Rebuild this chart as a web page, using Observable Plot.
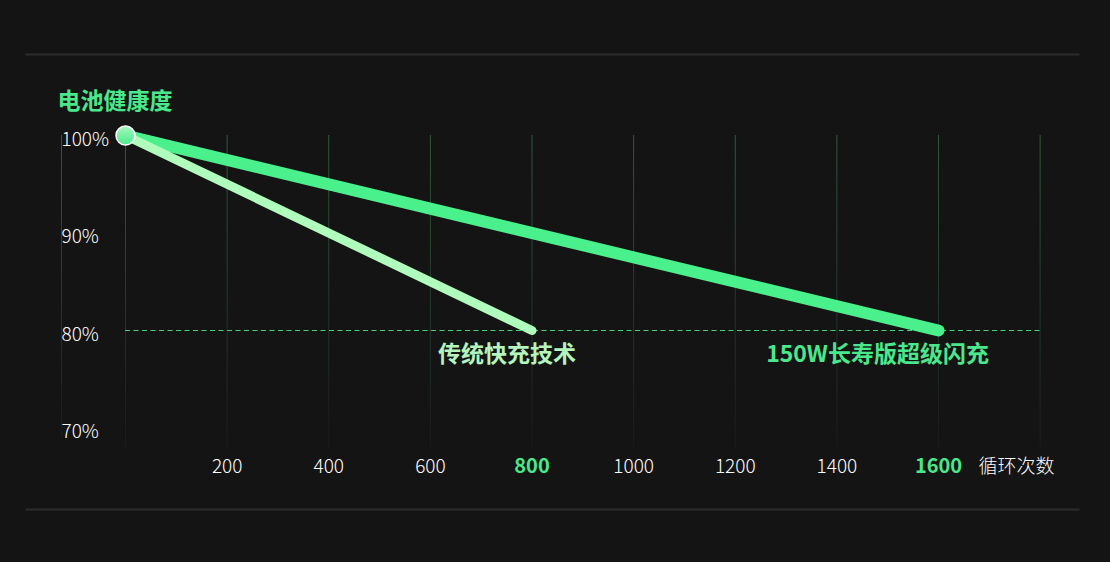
<!DOCTYPE html>
<html>
<head>
<meta charset="utf-8">
<script src="https://cdn.jsdelivr.net/npm/d3@7"></script>
<script src="https://cdn.jsdelivr.net/npm/@observablehq/plot@0.6"></script>
<style>
  html, body { margin: 0; padding: 0; background: #141414; }
  #chart { width: 1110px; height: 562px; }
  svg { font-family: "Noto Sans CJK SC", "Noto Sans", sans-serif; }
</style>
</head>
<body>
<div id="chart"></div>
<script>
// ---- data ----
const cycles = [0, 1600];                 // 150W 长寿版超级闪充
const healthLong = [100, 80];
const cyclesTrad = [0, 800];              // 传统快充技术
const healthTrad = [100, 80];
const gridTicks = [0, 200, 400, 600, 800, 1000, 1200, 1400, 1600, 1800];
const xTickLabels = [200, 400, 600, 1000, 1200, 1400];
const highlightTicks = [800, 1600];
const yTicks = [100, 90, 80, 70];
const thresholdHealth = 80;
const axisLineX = -126;                   // y-axis line (cycle units)
const yTitle = "电池健康度";
const xTitle = "循环次数";
const seriesNames = ["150W长寿版超级闪充", "传统快充技术"];

const longData = cycles.map((c, i) => ({c, h: healthLong[i]}));
const tradData = cyclesTrad.map((c, i) => ({c, h: healthTrad[i]}));

const defs = (index, scales) => {
  const d = d3.create("svg:defs");
  const g = d.append("linearGradient").attr("id", "gridGrad")
    .attr("gradientUnits", "userSpaceOnUse")
    .attr("x1", 0).attr("x2", 0)
    .attr("y1", scales.y(100)).attr("y2", scales.y(68));
  g.append("stop").attr("offset", "0%").attr("stop-color", "#2e5a3e");
  g.append("stop").attr("offset", "100%").attr("stop-color", "#1a1a1a");
  const c = d.append("linearGradient").attr("id", "dotGrad")
    .attr("x1", 0).attr("x2", 0).attr("y1", 0).attr("y2", 1);
  c.append("stop").attr("offset", "0%").attr("stop-color", "#a6f7bf");
  c.append("stop").attr("offset", "100%").attr("stop-color", "#4aeb8c");
  return d.node();
};

const chart = Plot.plot({
  width: 1110,
  height: 562,
  marginTop: 54,
  marginBottom: 53,
  marginLeft: 26,
  marginRight: 32,
  style: {background: "#141414", overflow: "visible"},
  x: {domain: [0, 1600], range: [125, 938], axis: null},
  y: {domain: [80, 100], range: [330, 135], axis: null},
  marks: [
    defs,
    Plot.frame({anchor: "top", stroke: "#2c2c2c", strokeWidth: 2}),
    Plot.frame({anchor: "bottom", stroke: "#2c2c2c", strokeWidth: 2}),
    // vertical grid
    Plot.ruleX(gridTicks, {y1: 100, y2: 68, stroke: "url(#gridGrad)", strokeWidth: 1}),
    Plot.ruleX([axisLineX], {y1: 100, y2: 69, stroke: "url(#gridGrad)", strokeWidth: 1}),
    // threshold
    Plot.ruleY([thresholdHealth], {x1: 0, x2: 1800, stroke: "#3fd27f", strokeWidth: 1, strokeDasharray: "5,3.5"}),
    // y labels
    Plot.text(yTicks, {x: axisLineX, y: d => d, text: d => d + "%", textAnchor: "start", dy: 4,
      fill: "#ffffff", fontSize: 19, fontWeight: 300}),
    Plot.text([yTitle], {x: axisLineX - 8, y: 100, dy: -34, textAnchor: "start", fill: "#4ae88c",
      fontSize: 23, fontWeight: 700}),
    // x labels
    Plot.text(xTickLabels, {x: d => d, y: 70, dy: 39, text: d => String(d),
      fill: "#ffffff", fontWeight: 300, fontSize: 19}),
    Plot.text(highlightTicks, {x: d => d, y: 70, dy: 39, text: d => String(d),
      fill: "#4ae88c", fontWeight: 700, fontSize: 20}),
    Plot.text([xTitle], {x: 1600, y: 70, dy: 39, dx: 40, textAnchor: "start", fill: "#ffffff",
      fontSize: 19, fontWeight: 300}),
    // lines
    Plot.line(longData, {x: "c", y: "h", stroke: "#4af08c", strokeWidth: 12, strokeLinecap: "round"}),
    Plot.line(tradData, {x: "c", y: "h", stroke: "#b0fcbc", strokeWidth: 9, strokeLinecap: "round"}),
    Plot.dot([longData[0]], {x: "c", y: "h", r: 9.5, fill: "url(#dotGrad)", stroke: "#ffffff", strokeWidth: 1.5}),
    // series labels
    Plot.text([longData[1]], {x: "c", y: "h", text: () => seriesNames[0], dx: -61, dy: 24,
      fill: "#4ae88c", fontSize: 23, fontWeight: 700}),
    Plot.text([tradData[1]], {x: "c", y: "h", text: () => seriesNames[1], dx: -25, dy: 24,
      fill: "#b3f5bd", fontSize: 23, fontWeight: 700})
  ]
});
document.getElementById("chart").appendChild(chart);
</script>
</body>
</html>
